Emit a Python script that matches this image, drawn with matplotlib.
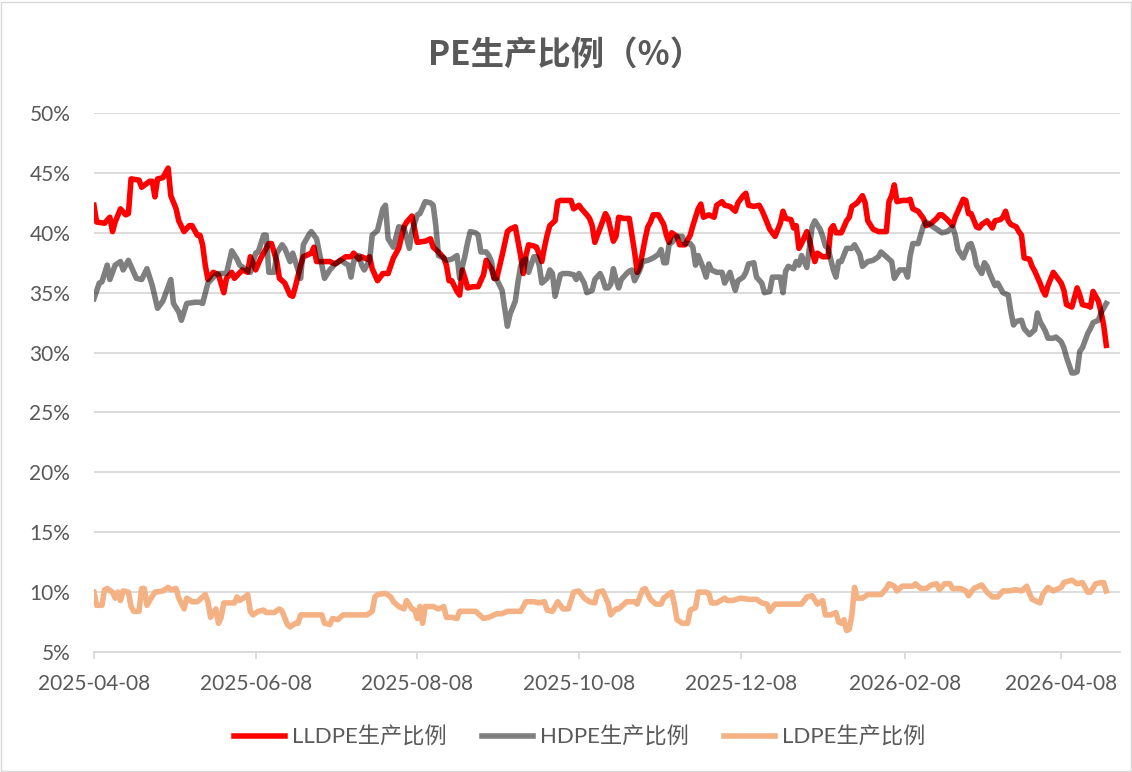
import matplotlib.pyplot as plt
import matplotlib.patches as mpatches
import pandas as pd

plt.rcParams['font.family'] = ['Lato', 'Noto Sans CJK SC']

start = pd.Timestamp('2025-04-08')

# days since 2025-04-08 and share in %
lldpe_day = [0, 1, 4, 6, 7, 8, 10, 12, 13, 14, 17, 18, 21, 22, 23, 24, 26, 28, 29, 31, 32, 34, 36, 37, 39, 40,
             41, 42, 43, 45, 47, 49, 50, 52, 53, 56, 58, 59, 61, 63, 66, 67, 69, 70, 72, 74, 75, 76, 78, 79, 82,
             83, 84, 87, 89, 91, 93, 95, 97, 98, 100, 101, 103, 104, 105, 107, 109, 111, 113, 115, 117, 118, 120,
             121, 122, 125, 127, 128, 130, 132, 133, 134, 135, 137, 138, 139, 140, 141, 143, 145, 147, 148, 150,
             151, 152, 154, 156, 157, 159, 161, 162, 163, 164, 166, 167, 169, 170, 171, 172, 174, 175, 176, 179,
             180, 181, 183, 184, 186, 187, 188, 189, 191, 193, 194, 196, 197, 198, 200, 202, 203, 204, 205, 206,
             208, 209, 210, 211, 213, 215, 216, 217, 218, 220, 221, 223, 225, 226, 228, 229, 230, 232, 234, 235,
             237, 238, 240, 242, 243, 245, 246, 247, 249, 251, 252, 253, 255, 257, 259, 260, 261, 263, 264, 265,
             266, 267, 269, 270, 271, 272, 273, 275, 277, 278, 279, 280, 282, 284, 285, 286, 288, 290, 291, 292,
             294, 296, 297, 299, 300, 301, 302, 303, 305, 307, 308, 309, 311, 313, 314, 316, 318, 319, 320, 322,
             324, 325, 326, 328, 329, 330, 331, 333, 334, 335, 337, 339, 340, 342, 343, 344, 345, 346, 348, 349,
             350, 351, 353, 354, 355, 357, 358, 359, 360, 362, 363, 365, 366, 367, 368, 369, 371, 372, 373, 375,
             376, 377, 379, 380, 381, 382]
lldpe_pct = [42.3, 40.9, 40.8, 41.3, 40.1, 40.9, 42.0, 41.5, 41.6, 44.5, 44.4, 43.8, 44.3, 44.3, 43.0, 44.5,
             44.6, 45.4, 43.1, 42.0, 41.0, 40.1, 40.6, 40.6, 39.8, 39.8, 39.0, 37.3, 36.1, 36.7, 36.5, 35.0,
             36.2, 36.7, 36.2, 36.9, 36.7, 38.0, 36.9, 37.9, 39.1, 39.1, 37.6, 36.2, 35.8, 34.8, 34.7, 35.5,
             37.3, 38.0, 38.3, 38.8, 37.6, 37.6, 37.6, 37.4, 37.7, 38.0, 38.0, 38.3, 37.8, 38.0, 37.8, 38.0,
             37.0, 36.0, 36.6, 36.6, 37.9, 38.7, 40.5, 40.9, 41.4, 40.3, 39.2, 39.3, 39.5, 38.8, 38.4, 37.9,
             37.3, 36.0, 36.0, 35.1, 34.8, 36.9, 36.2, 35.4, 35.5, 35.5, 36.5, 37.7, 37.0, 36.2, 36.2, 38.1,
             40.1, 40.3, 40.5, 38.1, 36.6, 38.1, 39.0, 38.9, 38.8, 37.6, 38.8, 39.8, 40.6, 41.0, 42.6, 42.7,
             42.7, 42.7, 42.0, 42.3, 42.0, 41.5, 41.2, 40.6, 39.2, 40.4, 41.6, 41.2, 39.3, 39.7, 41.3, 41.2,
             41.2, 39.8, 38.4, 36.7, 37.2, 39.5, 40.5, 40.9, 41.5, 41.5, 40.7, 39.8, 39.2, 40.0, 39.7, 39.0,
             39.0, 39.8, 40.6, 42.0, 42.4, 41.3, 41.5, 41.3, 42.3, 42.6, 42.3, 42.2, 41.8, 42.5, 43.1, 43.3,
             42.3, 42.2, 42.3, 41.9, 41.4, 40.3, 39.7, 40.8, 41.8, 41.2, 41.1, 40.4, 40.6, 38.7, 39.1, 40.1,
             39.4, 38.4, 37.6, 38.3, 38.0, 38.0, 40.3, 40.6, 40.0, 40.0, 41.0, 41.3, 42.2, 42.5, 43.1, 42.5,
             41.0, 40.3, 40.1, 40.1, 40.1, 42.6, 43.1, 44.0, 42.6, 42.7, 42.7, 42.8, 42.0, 41.8, 41.2, 40.6,
             40.8, 41.2, 41.5, 41.5, 41.1, 40.6, 41.3, 41.8, 42.8, 42.7, 41.6, 41.6, 40.5, 40.4, 40.7, 41.0,
             40.4, 41.0, 41.1, 41.3, 41.8, 41.0, 40.7, 40.5, 40.1, 39.8, 37.9, 37.8, 37.2, 36.8, 35.8, 35.2,
             34.8, 35.6, 36.7, 36.4, 35.8, 35.2, 34.0, 33.9, 33.8, 35.4, 34.8, 34.0, 33.9, 33.8, 35.1, 34.3,
             33.4, 32.3, 30.6]

hdpe_day = [0, 2, 3, 5, 6, 8, 10, 11, 13, 16, 18, 20, 22, 24, 26, 29, 30, 32, 33, 35, 38, 40, 41, 43, 46, 47,
            50, 52, 54, 55, 57, 59, 61, 62, 64, 65, 66, 68, 69, 71, 72, 74, 75, 76, 78, 79, 81, 82, 84, 86, 87,
            89, 91, 93, 96, 97, 98, 100, 101, 102, 104, 105, 107, 109, 110, 111, 113, 115, 117, 119, 120, 122,
            123, 125, 127, 128, 129, 130, 132, 133, 135, 137, 138, 140, 141, 142, 144, 145, 146, 148, 149, 150,
            151, 152, 154, 155, 156, 157, 159, 160, 161, 162, 163, 164, 166, 167, 168, 169, 171, 172, 173, 174,
            176, 177, 179, 181, 182, 183, 185, 186, 188, 189, 191, 192, 193, 194, 195, 196, 197, 198, 199, 201,
            202, 203, 204, 206, 207, 209, 211, 213, 214, 215, 216, 217, 218, 220, 222, 223, 225, 226, 227, 228,
            230, 231, 232, 233, 235, 237, 238, 240, 241, 242, 243, 245, 246, 247, 249, 250, 252, 253, 255, 256,
            259, 260, 261, 262, 264, 265, 266, 267, 269, 270, 271, 272, 274, 275, 276, 277, 279, 280, 281, 282,
            284, 286, 287, 289, 290, 292, 294, 296, 297, 299, 301, 302, 304, 306, 307, 308, 309, 311, 313, 314,
            316, 318, 320, 322, 324, 325, 326, 328, 330, 331, 332, 333, 335, 336, 337, 338, 340, 341, 343, 345,
            346, 347, 348, 350, 351, 353, 355, 356, 357, 359, 360, 362, 363, 365, 366, 367, 369, 370, 371, 372,
            373, 375, 376, 377, 379, 380, 382]
hdpe_pct = [34.5, 35.8, 35.9, 37.3, 36.1, 37.3, 37.6, 36.9, 37.7, 36.2, 36.1, 37.0, 35.6, 33.7, 34.3, 36.1,
            34.1, 33.4, 32.7, 34.1, 34.2, 34.2, 34.1, 35.8, 36.5, 36.6, 36.6, 38.5, 37.8, 37.3, 37.0, 36.7,
            38.3, 38.4, 39.8, 39.8, 36.7, 36.7, 38.3, 39.0, 38.7, 37.6, 38.3, 37.6, 36.2, 39.0, 39.8, 40.1,
            39.5, 37.3, 36.2, 36.9, 37.4, 37.7, 37.3, 36.3, 37.6, 38.1, 37.3, 36.9, 37.7, 39.8, 40.2, 42.0,
            42.3, 39.5, 38.8, 40.5, 40.4, 38.7, 40.1, 41.5, 41.6, 42.6, 42.5, 42.3, 40.6, 38.1, 37.9, 37.7,
            37.8, 38.1, 36.2, 38.1, 39.2, 40.1, 40.0, 39.8, 38.4, 38.4, 38.1, 37.6, 36.2, 36.1, 35.2, 33.7,
            32.2, 33.2, 34.3, 35.9, 37.2, 37.7, 37.8, 36.7, 38.0, 38.0, 37.3, 35.8, 36.2, 36.9, 36.6, 34.7,
            36.5, 36.6, 36.6, 36.5, 36.1, 36.6, 35.8, 35.0, 35.2, 36.1, 36.6, 36.1, 35.4, 35.4, 35.7, 37.0,
            36.1, 35.4, 36.1, 36.6, 36.8, 36.9, 36.0, 36.9, 37.6, 37.7, 37.9, 38.2, 38.6, 37.5, 37.5, 39.0,
            39.2, 39.7, 39.7, 39.1, 39.1, 38.8, 37.3, 38.1, 37.0, 36.3, 37.4, 36.9, 36.7, 36.7, 35.8, 36.7,
            35.9, 35.2, 36.0, 36.3, 36.7, 37.4, 37.5, 36.3, 35.8, 35.0, 35.1, 36.3, 36.3, 35.0, 36.8, 37.2,
            37.0, 37.6, 37.3, 38.1, 37.1, 38.8, 40.5, 41.0, 40.3, 39.7, 38.9, 38.7, 36.9, 36.3, 37.6, 37.6,
            38.7, 38.7, 39.0, 38.2, 37.2, 37.6, 37.7, 38.0, 38.4, 38.0, 37.6, 36.2, 36.9, 36.9, 36.3, 38.1,
            39.1, 39.1, 40.6, 40.9, 40.6, 40.3, 40.0, 40.1, 40.5, 39.8, 38.6, 37.9, 39.0, 39.1, 38.4, 37.3,
            36.6, 37.5, 37.2, 36.6, 35.6, 35.8, 35.0, 34.8, 33.4, 32.3, 32.6, 32.7, 32.0, 31.5, 31.9, 33.3,
            32.6, 31.8, 31.2, 31.2, 31.3, 30.9, 30.4, 29.6, 28.3, 28.3, 28.4, 30.1, 30.4, 31.6, 32.0, 32.5,
            32.7, 33.3, 34.1]

ldpe_day = [0, 1, 3, 4, 5, 7, 8, 9, 10, 11, 13, 14, 15, 17, 18, 19, 20, 21, 23, 26, 28, 29, 31, 32, 34, 35,
            37, 39, 41, 42, 43, 44, 46, 47, 48, 49, 51, 53, 54, 55, 57, 58, 59, 60, 62, 64, 65, 68, 70, 71, 73,
            74, 76, 77, 78, 80, 85, 86, 87, 89, 90, 92, 94, 97, 100, 103, 105, 106, 107, 110, 112, 113, 115,
            117, 118, 120, 121, 122, 123, 124, 125, 128, 130, 132, 133, 135, 137, 138, 141, 144, 147, 149, 151,
            152, 154, 156, 158, 161, 163, 166, 168, 170, 171, 173, 175, 177, 179, 181, 183, 185, 187, 189, 190,
            192, 194, 195, 197, 198, 201, 204, 205, 207, 208, 210, 212, 214, 215, 218, 219, 220, 222, 224, 225,
            227, 228, 231, 232, 233, 235, 238, 239, 241, 244, 247, 250, 252, 254, 255, 257, 262, 267, 269, 271,
            273, 275, 276, 278, 280, 281, 282, 283, 284, 285, 286, 287, 288, 290, 292, 294, 297, 299, 300, 302,
            303, 305, 309, 310, 312, 314, 316, 318, 319, 321, 323, 324, 327, 329, 330, 332, 335, 337, 339, 341,
            343, 345, 348, 350, 352, 353, 354, 357, 358, 360, 362, 365, 366, 369, 371, 373, 375, 376, 378, 380,
            381, 382]
ldpe_pct = [10.0, 8.9, 8.9, 10.2, 10.3, 10.0, 9.5, 10.0, 9.3, 10.1, 10.0, 8.8, 8.4, 8.4, 10.3, 10.3, 8.9, 9.3,
            10.0, 10.1, 10.4, 10.2, 10.3, 9.5, 8.6, 9.5, 9.2, 9.2, 9.6, 9.8, 9.2, 7.9, 8.6, 7.4, 7.9, 9.1, 9.1,
            9.1, 9.6, 9.3, 9.6, 9.8, 8.4, 8.1, 8.4, 8.5, 8.3, 8.3, 8.6, 8.4, 7.3, 7.1, 7.4, 7.4, 8.1, 8.1, 8.1,
            8.1, 7.4, 7.3, 7.8, 7.7, 8.1, 8.1, 8.1, 8.1, 8.4, 9.6, 9.8, 9.9, 9.6, 9.2, 8.8, 8.6, 9.3, 8.6, 8.5,
            7.8, 8.8, 7.4, 8.8, 8.8, 8.6, 8.8, 7.9, 7.9, 7.8, 8.4, 8.4, 8.4, 7.8, 7.9, 8.1, 8.2, 8.2, 8.4, 8.4,
            8.4, 9.2, 9.2, 9.1, 9.2, 8.5, 8.4, 9.2, 8.6, 8.6, 10.0, 10.1, 9.5, 9.2, 9.1, 10.0, 10.1, 9.1, 8.1,
            8.6, 8.6, 9.2, 9.2, 9.0, 10.2, 10.3, 9.4, 9.0, 9.0, 9.5, 10.0, 9.0, 7.7, 7.4, 7.4, 8.5, 8.7, 10.0,
            10.0, 9.9, 9.1, 9.1, 9.5, 9.3, 9.3, 9.5, 9.4, 9.4, 9.1, 9.0, 8.4, 9.0, 9.0, 9.0, 9.6, 9.7, 9.0,
            9.3, 8.1, 8.1, 8.3, 7.5, 7.4, 7.7, 6.8, 6.9, 8.1, 10.4, 9.5, 9.5, 9.8, 9.8, 9.8, 10.3, 10.7, 10.5,
            10.1, 10.5, 10.5, 10.7, 10.3, 10.3, 10.6, 10.7, 10.2, 10.7, 10.7, 10.3, 10.3, 10.1, 9.7, 10.3,
            10.6, 10.0, 9.6, 9.6, 10.1, 10.1, 10.2, 10.1, 10.5, 9.9, 9.4, 9.1, 9.8, 10.4, 10.1, 10.4, 10.8,
            11.0, 10.7, 10.8, 10.0, 10.0, 10.7, 10.8, 10.8, 10.1]

tick_dates = ['2025-04-08', '2025-06-08', '2025-08-08', '2025-10-08', '2025-12-08', '2026-02-08', '2026-04-08']
y_ticks = [5, 10, 15, 20, 25, 30, 35, 40, 45, 50]


def to_dates(days):
    return start + pd.to_timedelta(days, unit='D')


text_color = '#595959'
grid_color = '#d9d9d9'

fig = plt.figure(figsize=(11.32, 7.72), dpi=100)
ax = fig.add_axes([0.083, 0.1554, 0.906, 0.6982])

ax.plot(to_dates(lldpe_day), lldpe_pct, color='#ff0000', lw=4, label='LLDPE生产比例',
        solid_joinstyle='round', zorder=3)
ax.plot(to_dates(hdpe_day), hdpe_pct, color='black', alpha=0.5, lw=4, label='HDPE生产比例',
        solid_joinstyle='round', zorder=4)
ax.plot(to_dates(ldpe_day), ldpe_pct, color='#f4b183', lw=4, label='LDPE生产比例',
        solid_joinstyle='round', zorder=3)

ax.set_xlim(start, start + pd.Timedelta(days=387))
ax.set_ylim(5, 50)

ticks = pd.to_datetime(tick_dates)
ax.set_xticks(ticks)
ax.set_xticklabels(tick_dates)
ax.set_yticks(y_ticks)
ax.set_yticklabels([f'{v}%' for v in y_ticks])

ax.grid(axis='y', color=grid_color, lw=1.3)
ax.set_axisbelow(True)
for side in ['top', 'right', 'left']:
    ax.spines[side].set_visible(False)
ax.spines['bottom'].set_color(grid_color)
ax.spines['bottom'].set_linewidth(1.3)
ax.tick_params(axis='x', length=5, color=grid_color, width=1.3, labelsize=15, labelcolor=text_color, pad=11)
ax.tick_params(axis='y', length=0, labelsize=15, labelcolor=text_color, pad=17)

fig.text(0.5, 0.929, 'PE生产比例（%）', ha='center', va='center', fontsize=24, fontweight='bold',
         color=text_color, family=['Noto Sans CJK SC'])

handles, labels = ax.get_legend_handles_labels()
leg = fig.legend(handles, labels, loc='center', bbox_to_anchor=(0.512, 0.045), ncol=3, frameon=False,
                 fontsize=16, handlelength=2.3, handletextpad=0.3, columnspacing=1.6)
for t in leg.get_texts():
    t.set_color(text_color)

fig.patches.append(mpatches.Rectangle((0.001, 0.001), 0.998, 0.997, transform=fig.transFigure,
                                      fill=False, edgecolor=grid_color, lw=1))

fig.savefig('out.png', dpi=100)
